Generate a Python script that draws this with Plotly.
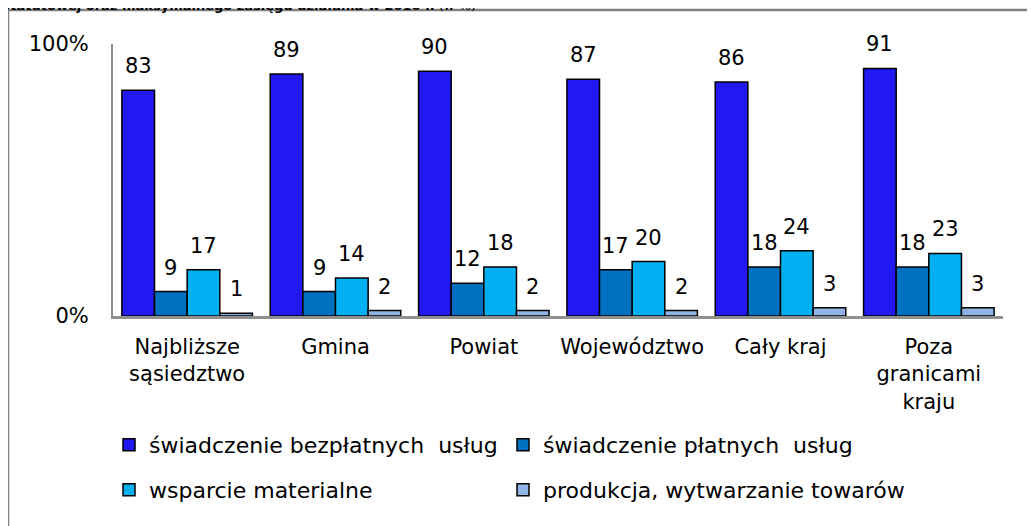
import plotly.graph_objects as go

categories = ["Najbliższe<br>sąsiedztwo", "Gmina", "Powiat", "Województwo", "Cały kraj", "Poza<br>granicami<br>kraju"]
series_names = ["świadczenie bezpłatnych\u00a0 usług", "świadczenie płatnych\u00a0 usług",
                "wsparcie materialne", "produkcja, wytwarzanie towarów"]
bezplatne = [83, 89, 90, 87, 86, 91]
platne = [9, 9, 12, 17, 18, 18]
materialne = [17, 14, 18, 20, 24, 23]
produkcja = [1, 2, 2, 2, 3, 3]
colors = ["#2219F2", "#0070C0", "#00B0F0", "#8DB4E2"]
y_tickvals = [0, 100]
y_ticktext = ["0%", "100%"]
title_bold = "Statutowej oraz maksymalnego zasięgu działania w 2010 r."
title_normal = " (w %)"

W, H = 1035, 526
OFF = 8  # page body margin
# plot area in page pixels
L, R, T, B = 113 - OFF, 1003 - OFF, 44 - OFF, 316 - OFF
pw, ph = R - L, B - T
FONT = "DejaVu Sans"


def px(xp):
    return (xp - OFF - L) / pw


def py(yp):
    return (B - (yp - OFF)) / ph


fig = go.Figure()
all_series = [bezplatne, platne, materialne, produkcja]
legend_ids = ["legend", "legend2", "legend3", "legend4"]
legend_pos = [(109, 445), (503, 445), (109, 490), (503, 490)]
for name, vals, col, lg in zip(series_names, all_series, colors, legend_ids):
    fig.add_trace(go.Bar(
        x=categories, y=vals, name=name,
        marker=dict(color=col, line=dict(color="black", width=1.5)),
        legend=lg,
    ))

bargap = 0.12
cat_w = pw / len(categories)
bar_w = cat_w * (1 - bargap) / 4
annotations = []
for i, vals in enumerate(all_series):
    for c, v in zip(categories, vals):
        annotations.append(dict(
            x=c, y=v, xref="x", yref="y", text=str(v), showarrow=False,
            xshift=(i - 1.5) * bar_w, yshift=24, yanchor="middle",
            font=dict(family=FONT, size=21, color="black"),
        ))

annotations.append(dict(
    xref="paper", yref="paper",
    x=px(-1), y=py(5), xanchor="left", yanchor="middle",
    text="<b>" + title_bold + "</b>" + title_normal, showarrow=False,
    font=dict(family=FONT, size=13, color="black"),
))

shapes = [dict(
    type="path", xref="paper", yref="paper",
    path="M {x0},{y0} L {x1},{y1} L {x2},{y2}".format(
        x0=px(8), y0=py(560), x1=px(8), y1=py(10), x2=px(1060), y2=py(10)),
    line=dict(color="#808080", width=2.5),
)]

legend_layouts = {}
for lg, (lx, ly) in zip(legend_ids, legend_pos):
    legend_layouts[lg] = dict(
        orientation="h", x=px(lx), y=py(ly),
        xanchor="left", yanchor="middle",
        font=dict(family=FONT, size=22, color="black"),
        bgcolor="rgba(0,0,0,0)", itemclick=False, itemdoubleclick=False,
    )

fig.update_layout(
    width=W, height=H,
    margin=dict(l=L, r=W - R, t=T, b=H - B, pad=0),
    paper_bgcolor="white", plot_bgcolor="white",
    barmode="group", bargap=bargap, bargroupgap=0,
    font=dict(family=FONT, size=21, color="black"),
    showlegend=True,
    xaxis=dict(showline=True, linecolor="#909090", linewidth=2.5,
               ticks="outside", ticklen=10, tickcolor="rgba(0,0,0,0)",
               tickfont=dict(family=FONT, size=21, color="black"),
               showgrid=False, fixedrange=True),
    yaxis=dict(range=[0, 100], tickvals=y_tickvals, ticktext=y_ticktext,
               showline=True, linecolor="#909090", linewidth=2,
               ticks="outside", ticklen=18, tickcolor="rgba(0,0,0,0)",
               showgrid=True, gridcolor="#DCDCDC", gridwidth=2,
               zeroline=False,
               tickfont=dict(family=FONT, size=21, color="black"),
               fixedrange=True),
    annotations=annotations,
    shapes=shapes,
    **legend_layouts,
)

fig.write_html("out.html")
